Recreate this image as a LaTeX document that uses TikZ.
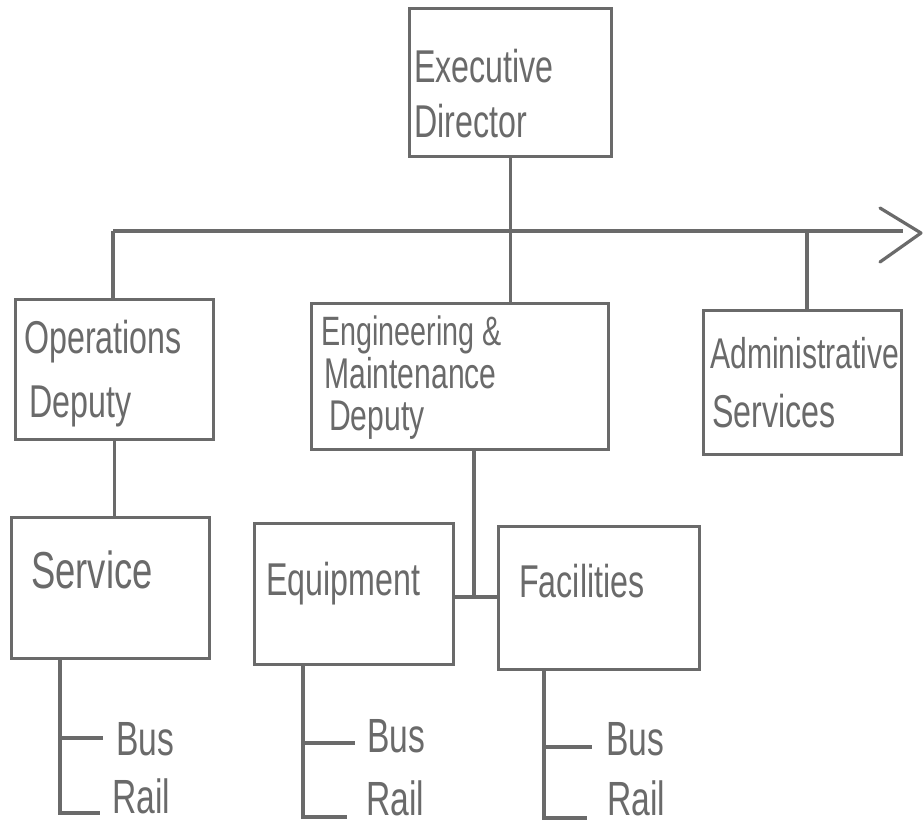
\documentclass[tikz,border=0pt]{standalone}
\usepackage{fontspec}
\newfontfamily\handfont{Liberation Sans}[FakeStretch=0.7]
\definecolor{ink}{HTML}{6A6A6A}
\newcommand{\handsize}[1]{\handfont\fontsize{#1}{#1}\selectfont}
\begin{document}
\begin{tikzpicture}[x=1pt,y=-1pt,
  box/.style={draw=ink, line width=3.2pt, rectangle, inner sep=0pt, anchor=north west},
  wire/.style={draw=ink, line width=3.2pt},
  txt/.style={text=ink, inner sep=0pt, anchor=base west, font=\handsize{46}},
  smalltxt/.style={txt, font=\handsize{41}},
  branchtxt/.style={txt, font=\handsize{48}},
]
\useasboundingbox[fill=white] (0,0) rectangle (924,828);

% boxes
\node[box, minimum width=202pt, minimum height=148pt] (exec)    at (408,7)   {};
\node[box, minimum width=198pt, minimum height=140pt] (ops)     at (14,298)  {};
\node[box, minimum width=297pt, minimum height=146pt] (em)      at (310,302) {};
\node[box, minimum width=198pt, minimum height=144pt] (admin)   at (702,309) {};
\node[box, minimum width=198pt, minimum height=141pt] (service) at (10,516)  {};
\node[box, minimum width=199pt, minimum height=141pt] (equip)   at (253,522) {};
\node[box, minimum width=201pt, minimum height=143pt] (fac)     at (497,525) {};

% box texts
\node[txt] (t1)  at (414,82)  {Executive};
\node[txt] (t2)  at (414,137) {Director};
\node[txt] (t3)  at (24,353)  {Operations};
\node[txt] (t4)  at (29,417)  {Deputy};
\node[smalltxt] (t5)  at (321,345) {Engineering \&};
\node[smalltxt, font=\handsize{43}] (t6)  at (324,388) {Maintenance};
\node[smalltxt, font=\handsize{43}] (t7)  at (329,430) {Deputy};
\node[txt, font=\handsize{43}] (t8) at (710,368) {Administrative};
\node[txt] (t9)  at (712,427) {Services};
\node[txt, font=\handsize{52}] (t10) at (31,588) {Service};
\node[txt] (t11) at (266,595) {Equipment};
\node[txt] (t12) at (519,597) {Facilities};

% branch texts
\node[branchtxt] (sbus)  at (116,755) {Bus};
\node[branchtxt] (srail) at (112,813) {Rail};
\node[branchtxt] (ebus)  at (367,752) {Bus};
\node[branchtxt] (erail) at (366,815) {Rail};
\node[branchtxt] (fbus)  at (606,755) {Bus};
\node[branchtxt] (frail) at (607,815) {Rail};

% main horizontal line with open arrowhead
\coordinate (busL) at (113,231);
\coordinate (busR) at (903,231);
\coordinate (adminTap) at (807,231);
\coordinate (arrowTip) at (921,233);
\draw[wire] (busL) -- (busR);
\draw[wire, line cap=round, line join=round] (880,208) -- (arrowTip) -- (880,262);

% top-level connectors
\draw[wire] (exec.south) -- (exec.south |- em.north);
\draw[wire] (busL) -- (busL |- ops.north);
\draw[wire] (adminTap) -- (adminTap |- admin.north);
\draw[wire] (ops.south) -- (ops.south |- service.north);

% engineering & maintenance split
\coordinate (split) at (474,597);
\draw[wire] (split |- em.south) -- (split);
\draw[wire] (equip.east |- split) -- (fac.west |- split);

% bus / rail branches
\coordinate (sx) at (60,0);
\coordinate (ex) at (303,0);
\coordinate (fx) at (544,0);
\draw[wire] (sx |- service.south) -- (60,813) -- (100,813);
\draw[wire] (60,738) -- (103,738);
\draw[wire] (ex |- equip.south) -- (303,817) -- (347,817);
\draw[wire] (303,743) -- (355,743);
\draw[wire] (fx |- fac.south) -- (544,818) -- (587,818);
\draw[wire] (544,747) -- (592,747);
\end{tikzpicture}
\end{document}
